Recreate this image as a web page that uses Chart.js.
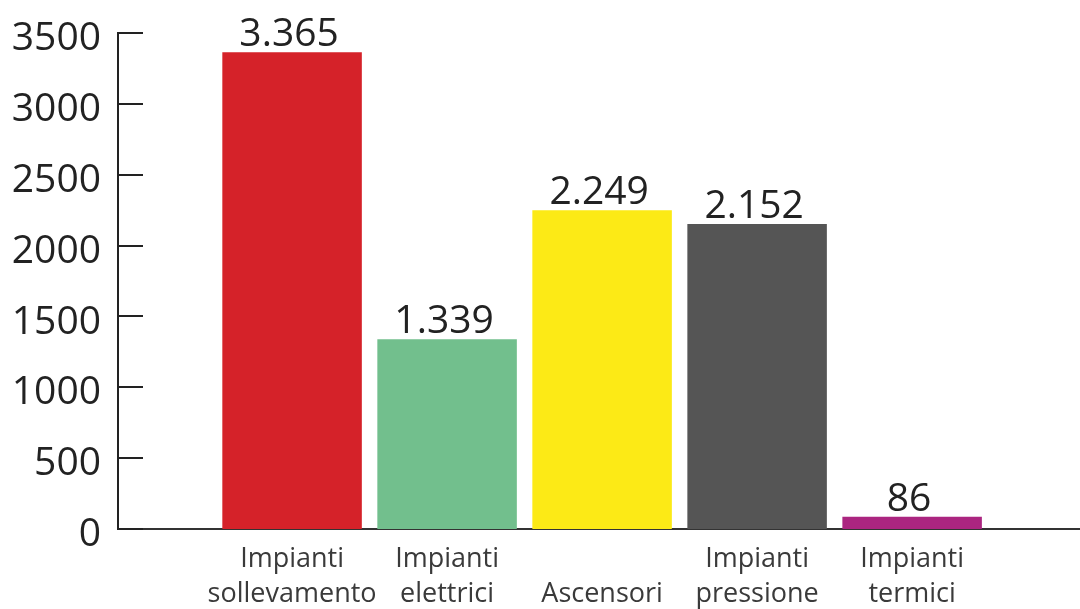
<!DOCTYPE html>
<html>
<head>
<meta charset="utf-8">
<script src="https://cdn.jsdelivr.net/npm/chart.js@4/dist/chart.umd.min.js"></script>
<style>
  html, body { margin: 0; padding: 0; background: #ffffff; }
  #wrap { width: 1080px; height: 609px; }
</style>
</head>
<body>
<div id="wrap"><canvas id="impiantiChart" width="1080" height="609"></canvas></div>
<script>
// Data
const categories = [
    ['Impianti', 'sollevamento'],
    ['Impianti', 'elettrici'],
    ['', 'Ascensori'],
    ['Impianti', 'pressione'],
    ['Impianti', 'termici']
];
const values = [3365, 1339, 2249, 2152, 86];
const barColors = ['#d52229', '#72bf8d', '#fcea16', '#555555', '#ab2580'];
const yTicks = [0, 500, 1000, 1500, 2000, 2500, 3000, 3500];

// Italian thousands separator: 3365 -> "3.365"
function formatValue(v) {
    return String(v).replace(/\B(?=(\d{3})+(?!\d))/g, '.');
}

// Short tick marks drawn inside the plot, next to the y axis
const innerTicks = {
    id: 'innerTicks',
    afterDraw(chart) {
        const y = chart.scales.y;
        const ctx = chart.ctx;
        ctx.save();
        ctx.strokeStyle = '#222222';
        ctx.lineWidth = 2;
        yTicks.forEach(v => {
            const py = Math.round(y.getPixelForValue(v));
            ctx.beginPath();
            ctx.moveTo(y.right, py);
            ctx.lineTo(y.right + 25, py);
            ctx.stroke();
        });
        ctx.restore();
    }
};

// Value labels above each bar
const valueLabels = {
    id: 'valueLabels',
    afterDatasetsDraw(chart) {
        const ctx = chart.ctx;
        const meta = chart.getDatasetMeta(0);
        ctx.save();
        ctx.font = '39px "Open Sans"';
        ctx.fillStyle = '#222222';
        ctx.textAlign = 'center';
        ctx.textBaseline = 'alphabetic';
        meta.data.forEach((bar, i) => {
            ctx.fillText(formatValue(values[i]), bar.x - 3, bar.y - 6);
        });
        ctx.restore();
    }
};

const ctx = document.getElementById('impiantiChart');

new Chart(ctx, {
    type: 'bar',
    data: {
        datasets: [{
            data: values.map((v, i) => ({ x: i, y: v })),
            backgroundColor: barColors,
            borderWidth: 0,
            barPercentage: 0.9,
            categoryPercentage: 1
        }]
    },
    options: {
        responsive: false,
        animation: false,
        layout: { padding: { top: 33, right: 0, left: 0, bottom: 0 } },
        plugins: {
            legend: { display: false },
            tooltip: { enabled: false }
        },
        scales: {
            x: {
                type: 'linear',
                offset: false,
                min: -1.123,
                max: 5.083,
                afterBuildTicks: scale => {
                    scale.ticks = categories.map((c, i) => ({ value: i }));
                },
                afterFit: scale => {
                    scale.height = 80;
                    scale.paddingLeft = 0;
                    scale.paddingRight = 0;
                },
                grid: { display: false, drawTicks: false, offset: false },
                border: { display: true, color: '#333333', width: 2 },
                ticks: {
                    autoSkip: false,
                    maxRotation: 0,
                    padding: 13,
                    color: '#3a3a3a',
                    font: { family: '"Open Sans"', size: 27, lineHeight: 1.29 },
                    callback: (v) => categories[v] || ''
                }
            },
            y: {
                min: 0,
                max: 3500,
                afterBuildTicks: scale => {
                    scale.ticks = yTicks.map(v => ({ value: v }));
                },
                afterFit: scale => {
                    scale.width = 118;
                    scale.paddingTop = 0;
                    scale.paddingBottom = 0;
                },
                grid: { display: false, drawTicks: false },
                border: { display: true, color: '#222222', width: 2 },
                ticks: {
                    padding: 17,
                    labelOffset: 6,
                    color: '#222222',
                    font: { family: '"Open Sans"', size: 39 },
                    callback: (v) => String(v)
                }
            }
        }
    },
    plugins: [innerTicks, valueLabels]
});
</script>
</body>
</html>
